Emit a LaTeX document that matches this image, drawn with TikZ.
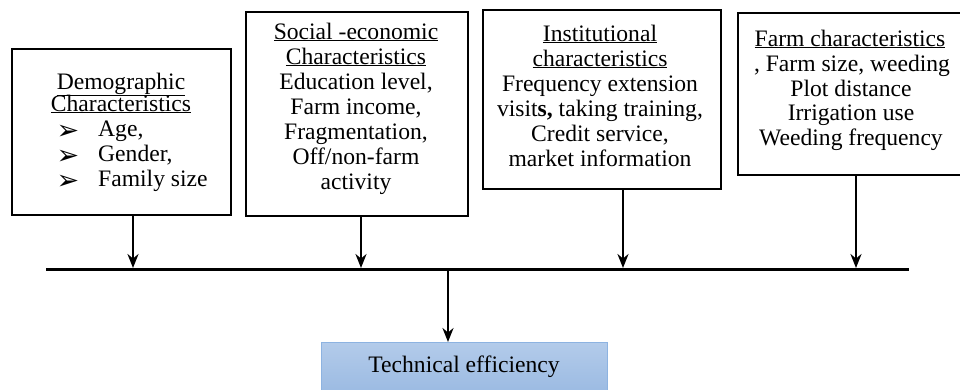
\documentclass[tikz,border=0pt]{standalone}
\usepackage{fontspec}
\setmainfont{Liberation Serif}
\newfontfamily\dejavu{DejaVu Sans}
\usetikzlibrary{arrows.meta}
\definecolor{tefill1}{HTML}{B3CBEA}
\definecolor{tefill2}{HTML}{9ABAE2}
\definecolor{tedraw}{HTML}{8DB3E1}
\begin{document}
\begin{tikzpicture}[x=1pt,y=-1pt,
  box/.style={draw=black,line width=2pt,fill=white,anchor=north west,inner sep=0pt},
  txt/.style={anchor=base,inner sep=0pt,font=\fontsize{23.6}{25}\selectfont},
  itm/.style={anchor=base west,inner sep=0pt,font=\fontsize{23.6}{25}\selectfont},
  bul/.style={anchor=base,inner sep=0pt,font=\dejavu\fontsize{27}{30}\selectfont},
  arr/.style={-{Stealth[length=14pt,width=11pt]},line width=2.3pt},
  bar/.style={line width=3pt}]
\useasboundingbox (0,0) rectangle (960,389);
\clip (0,0) rectangle (960,389);
% boxes
\node[box,minimum width=219pt,minimum height=166pt] (b1) at (11,48) {};
\node[box,minimum width=222pt,minimum height=204pt] (b2) at (245,11) {};
\node[box,minimum width=238pt,minimum height=179pt] (b3) at (482,9) {};
\node[box,minimum width=226pt,minimum height=162pt] (b4) at (737,12) {};
\node[anchor=north west,inner sep=0pt,minimum width=286pt,minimum height=52pt,
      top color=tefill1,bottom color=tefill2,draw=tedraw,line width=1.2pt] (te) at (321,342) {};
% box 1 text
\node[txt] (d1) at (121,89) {\underline{Demographic}};
\node[txt] (d2) at (121,111) {\underline{Characteristics}};
\node[bul] (k1) at (68,139) {➢};
\node[bul] (k2) at (68,164) {➢};
\node[bul] (k3) at (68,189) {➢};
\node[itm] (d3) at (98,136) {Age,};
\node[itm] (d4) at (98,161) {Gender,};
\node[itm] (d5) at (98,186) {Family size};
% box 2 text
\node[txt] (s1) at (356,39) {\underline{Social -economic}};
\node[txt] (s2) at (356,64) {\underline{Characteristics}};
\node[txt] (s3) at (356,89) {Education level,};
\node[txt] (s4) at (356,114) {Farm income,};
\node[txt] (s5) at (356,139) {Fragmentation,};
\node[txt] (s6) at (356,164) {Off/non-farm};
\node[txt] (s7) at (356,189) {activity};
% box 3 text
\node[txt] (i1) at (600,41) {\underline{Institutional}};
\node[txt] (i2) at (600,66) {\underline{characteristics}};
\node[txt] (i3) at (600,91) {Frequency extension};
\node[txt] (i4) at (600,116) {visit\textbf{s,} taking training,};
\node[txt] (i5) at (600,141) {Credit service,};
\node[txt] (i6) at (600,166) {market information};
% box 4 text
\node[txt] (f1) at (850,46) {\underline{Farm characteristics}};
\node[txt] (f2) at (852,71) {, Farm size, weeding};
\node[txt] (f3) at (851,96) {Plot distance};
\node[txt] (f4) at (851,120) {Irrigation use};
\node[txt] (f5) at (851,145) {Weeding frequency};
% target text
\node[txt] (t1) at (464,372) {Technical efficiency};
% bar and arrows
\coordinate (L) at (46,269);
\coordinate (R) at (909,269);
\coordinate (p1) at (133,268);
\coordinate (p2) at (361,268);
\coordinate (p3) at (623,268);
\coordinate (p4) at (856,268);
\coordinate (pc) at (448,269);
\draw[bar] (L) -- (R);
\draw[arr] (b1.south -| p1) -- (p1);
\draw[arr] (b2.south -| p2) -- (p2);
\draw[arr] (b3.south -| p3) -- (p3);
\draw[arr] (b4.south -| p4) -- (p4);
\draw[arr] (pc) -- (pc |- te.north);
\end{tikzpicture}
\end{document}
